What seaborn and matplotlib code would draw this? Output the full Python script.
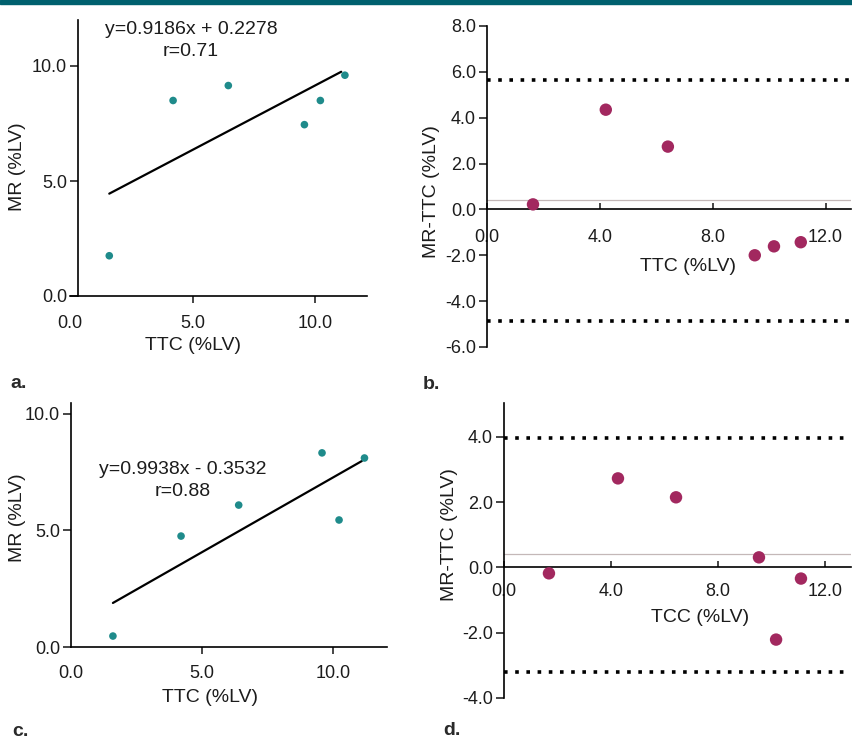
import matplotlib
matplotlib.use("Agg")
import matplotlib.pyplot as plt
import matplotlib.patches as mpatches
from matplotlib.ticker import FormatStrFormatter
import seaborn as sns
import pandas as pd

# ---------------- data ----------------
# panel a: MR vs TTC
ttc_a = [1.6, 4.2, 6.45, 9.55, 10.2, 11.2]
mr_a = [1.75, 8.5, 9.15, 7.45, 8.5, 9.6]
fit_a_x = [1.6, 11.05]
fit_a_y = [4.45, 9.75]
eq_a = "y=0.9186x + 0.2278"
r_a = "r=0.71"

# panel b: Bland-Altman MR-TTC vs TTC
ttc_b = [1.63, 4.21, 6.41, 9.49, 10.17, 11.12]
diff_b = [0.22, 4.35, 2.74, -2.0, -1.61, -1.43]
mean_b = 0.39
upper_b = 5.65
lower_b = -4.87

# panel c: MR vs TTC
ttc_c = [1.6, 4.2, 6.4, 9.58, 10.23, 11.2]
mr_c = [0.47, 4.76, 6.09, 8.33, 5.45, 8.11]
fit_c_x = [1.6, 11.1]
fit_c_y = [1.89, 7.98]
eq_c = "y=0.9938x - 0.3532"
r_c = "r=0.88"

# panel d: Bland-Altman MR-TTC vs TCC
tcc_d = [1.68, 4.26, 6.43, 9.53, 10.17, 11.1]
diff_d = [-0.18, 2.73, 2.15, 0.31, -2.21, -0.34]
mean_d = 0.40
upper_d = 3.96
lower_d = -3.19

ticks_a_x = [0, 5, 10]
ticks_a_y = [0, 5, 10]
ticks_b_x = [0, 4, 8, 12]
ticks_b_y = [-6, -4, -2, 0, 2, 4, 6, 8]
ticks_d_y = [-4, -2, 0, 2, 4]

# ---------------- style ----------------
sns.set_style("ticks")
plt.rcParams["font.family"] = ["Liberation Sans", "DejaVu Sans"]
TXT = "#1c1c1c"
TEAL = "#1f8b8b"
MAG = "#a2285f"
TICK_FS = 13
LAB_FS = 14

W, H = 852, 743
fig = plt.figure(figsize=(W / 100, H / 100), dpi=100)
fig.patch.set_facecolor("white")


def fx(x):
    return x / W


def fy(y):
    return 1 - y / H


def add_ax(l, t, r, b):
    return fig.add_axes([fx(l), fy(b), (r - l) / W, (b - t) / H])


# top banner
fig.patches.append(mpatches.Rectangle((0, fy(4)), 1, 4 / H, transform=fig.transFigure,
                                      color="#00606e", zorder=0))


def style_axes(ax, xpad, ypad, xdir, ylen, xlen):
    for s in ["top", "right"]:
        ax.spines[s].set_visible(False)
    for s in ["left", "bottom"]:
        ax.spines[s].set_linewidth(1.2)
        ax.spines[s].set_color("black")
    ax.tick_params(axis="y", direction="out", length=ylen, width=1.2, pad=ypad,
                   labelsize=TICK_FS, labelcolor=TXT)
    ax.tick_params(axis="x", direction=xdir, length=xlen, width=1.2, pad=xpad,
                   labelsize=TICK_FS, labelcolor=TXT)
    ax.xaxis.set_major_formatter(FormatStrFormatter("%.1f"))
    ax.yaxis.set_major_formatter(FormatStrFormatter("%.1f"))
    ax.set_facecolor("none")
    ax.grid(False)


def place_labels(ax, xl, xpos, yl, ypos):
    ax.set_xlabel(xl, fontsize=LAB_FS, color=TXT)
    ax.set_ylabel(yl, fontsize=LAB_FS, color=TXT)
    ax.xaxis.set_label_coords(fx(xpos[0]), fy(xpos[1]), transform=fig.transFigure)
    ax.yaxis.set_label_coords(fx(ypos[0]), fy(ypos[1]), transform=fig.transFigure)
    ax.xaxis.label.set_verticalalignment("center")
    ax.yaxis.label.set_verticalalignment("center")


# ---------------- panel a ----------------
ax = add_ax(70, 20, 367, 296)
df_a = pd.DataFrame({"TTC": ttc_a, "MR": mr_a})
sns.scatterplot(data=df_a, x="TTC", y="MR", ax=ax, color=TEAL, s=30, edgecolor="none", zorder=3)
sns.lineplot(x=fit_a_x, y=fit_a_y, ax=ax, color="black", lw=1.6, estimator=None, zorder=2)
ax.set_xlim(0, 12.1)
ax.set_ylim(0, 12)
ax.spines["left"].set_position(("data", 0.33))
ax.set_xticks(ticks_a_x)
ax.set_yticks(ticks_a_y)
style_axes(ax, xpad=9, ypad=2, xdir="out", ylen=6, xlen=5)
ax.xaxis.get_major_ticks()[0].tick1line.set_visible(False)
place_labels(ax, "TTC (%LV)", (193, 346), "MR (%LV)", (18, 167))
fig.text(fx(191), fy(29), eq_a, ha="center", va="center", fontsize=LAB_FS, color=TXT)
fig.text(fx(191), fy(51), r_a, ha="center", va="center", fontsize=LAB_FS, color=TXT)

# ---------------- panel b ----------------
ax = add_ax(487, 26, 851, 347)
ax.axhline(mean_b, color="#c4b8b8", lw=0.9, zorder=1)
for v in (upper_b, lower_b):
    ax.axhline(v, color="black", lw=2.6, linestyle=(0, (1, 2.1)), dash_capstyle="butt", zorder=2)
df_b = pd.DataFrame({"TTC": ttc_b, "diff": diff_b})
sns.scatterplot(data=df_b, x="TTC", y="diff", ax=ax, color=MAG, s=80, edgecolor="none", zorder=4)
ax.set_xlim(0, 12.9)
ax.set_ylim(-6, 8)
ax.spines["bottom"].set_position(("data", 0))
ax.spines["bottom"].set_zorder(3)
ax.set_xticks(ticks_b_x)
ax.set_yticks(ticks_b_y)
style_axes(ax, xpad=14, ypad=2, xdir="in", ylen=6, xlen=4)
place_labels(ax, "TTC (%LV)", (688, 267), "MR-TTC (%LV)", (432, 192))

# ---------------- panel c ----------------
ax = add_ax(71, 403, 387, 647)
df_c = pd.DataFrame({"TTC": ttc_c, "MR": mr_c})
sns.scatterplot(data=df_c, x="TTC", y="MR", ax=ax, color=TEAL, s=30, edgecolor="none", zorder=3)
sns.lineplot(x=fit_c_x, y=fit_c_y, ax=ax, color="black", lw=1.6, estimator=None, zorder=2)
ax.set_xlim(0, 12.06)
ax.set_ylim(0, 10.47)
ax.set_xticks(ticks_a_x)
ax.set_yticks(ticks_a_y)
style_axes(ax, xpad=8, ypad=2, xdir="out", ylen=6, xlen=5)
ax.xaxis.get_major_ticks()[0].tick1line.set_visible(False)
place_labels(ax, "TTC (%LV)", (210, 698), "MR (%LV)", (18, 518))
fig.text(fx(183), fy(469), eq_c, ha="center", va="center", fontsize=LAB_FS, color=TXT)
fig.text(fx(183), fy(492), r_c, ha="center", va="center", fontsize=LAB_FS, color=TXT)

# ---------------- panel d ----------------
ax = add_ax(504, 403, 851, 698)
ax.axhline(mean_d, color="#c4b8b8", lw=0.9, zorder=1)
for v in (upper_d, lower_d):
    ax.axhline(v, color="black", lw=2.6, linestyle=(0, (1, 2.1)), dash_capstyle="butt", zorder=2)
df_d = pd.DataFrame({"TCC": tcc_d, "diff": diff_d})
sns.scatterplot(data=df_d, x="TCC", y="diff", ax=ax, color=MAG, s=80, edgecolor="none", zorder=4)
ax.set_xlim(0, 12.97)
ax.set_ylim(-4, 5.04)
ax.spines["bottom"].set_position(("data", 0))
ax.spines["bottom"].set_zorder(3)
ax.set_xticks(ticks_b_x)
ax.set_yticks(ticks_d_y)
style_axes(ax, xpad=11, ypad=2, xdir="in", ylen=6, xlen=4)
place_labels(ax, "TCC (%LV)", (700, 617), "MR-TTC (%LV)", (449, 535))

# ---------------- panel letters ----------------
letter_kw = dict(ha="left", va="baseline", fontsize=14, fontweight="bold", color="#2a2a2a",
                 family=["Liberation Sans Narrow", "Liberation Sans", "DejaVu Sans"])
fig.text(fx(10), fy(388), "a.", **letter_kw)
fig.text(fx(423), fy(389), "b.", **letter_kw)
fig.text(fx(12), fy(736), "c.", **letter_kw)
fig.text(fx(443), fy(735), "d.", **letter_kw)

fig.savefig("out.png", dpi=100, facecolor="white")
